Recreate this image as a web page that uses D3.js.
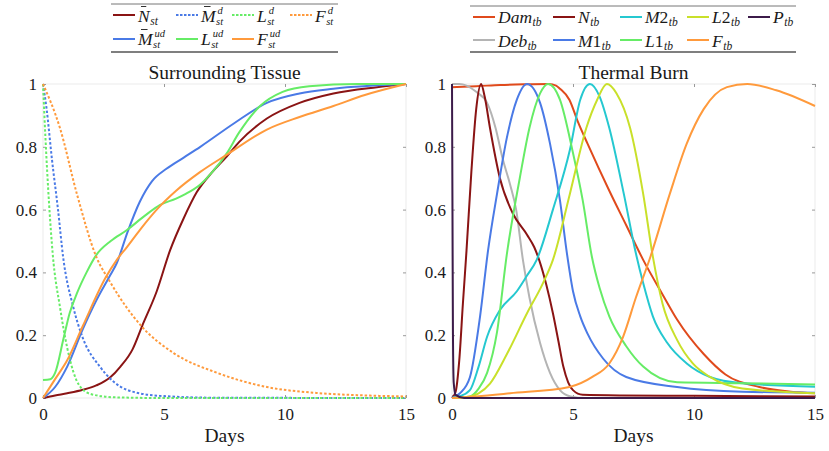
<!DOCTYPE html>
<html>
<head>
<meta charset="utf-8">
<script src="https://cdn.jsdelivr.net/npm/d3@7"></script>
<style>
  body { margin: 0; background: #fff; }
  text { font-family: "Liberation Serif", "Times New Roman", "DejaVu Serif", serif; fill: #1a1a1a; }
  .math { font-style: italic; }
</style>
</head>
<body>
<script>
// ticks
const xTicks = [0, 5, 10, 15];
const yTicks = [0, 0.2, 0.4, 0.6, 0.8, 1];
const yTickLabels = ["0", "0.2", "0.4", "0.6", "0.8", "1"];

// Surrounding tissue, [day, value]
const nSt = [[0,0],[0.5,0.008],[1,0.015],[1.65,0.026],[2.2,0.04],[2.77,0.065],[3.2,0.1],[3.7,0.155],[4.1,0.23],[4.7,0.34],[5.25,0.47],[5.8,0.57],[6.35,0.655],[7,0.72],[7.6,0.77],[8.1,0.815],[9.25,0.89],[10.6,0.94],[12,0.97],[13.8,0.99],[15,1]];
const mStD = [[0,1],[0.15,0.92],[0.37,0.76],[0.62,0.6],[0.83,0.45],[1.25,0.29],[1.65,0.19],[2.35,0.1],[3.47,0.026],[4.8,0.007],[7,0.001],[15,0]];
const lStD = [[0,1],[0.1,0.83],[0.25,0.62],[0.4,0.46],[0.7,0.29],[1,0.16],[1.5,0.04],[2,0.012],[3,0.002],[5,0],[15,0]];
const fStD = [[0,1],[0.7,0.86],[1.4,0.65],[2.2,0.45],[2.77,0.37],[4.1,0.226],[5.4,0.143],[7.2,0.08],[9.25,0.035],[11.3,0.016],[13,0.009],[15,0.005]];
const mStUd = [[0,0],[0.5,0.035],[1,0.1],[1.65,0.22],[2.2,0.31],[2.77,0.39],[3.05,0.43],[3.5,0.53],[4,0.625],[4.5,0.69],[5.1,0.73],[5.8,0.765],[6.5,0.8],[7.9,0.875],[9.25,0.94],[10.6,0.97],[12,0.985],[15,1]];
const lStUd = [[0,0.057],[0.3,0.06],[0.5,0.08],[0.85,0.19],[1.1,0.27],[1.4,0.333],[1.8,0.4],[2.2,0.455],[2.8,0.5],[3.47,0.535],[4.2,0.58],[4.84,0.615],[5.5,0.635],[5.9,0.65],[6.5,0.68],[7,0.72],[7.6,0.78],[8.1,0.845],[8.97,0.93],[9.9,0.975],[11,0.993],[13,1],[15,1]];
const fStUd = [[0,0],[0.5,0.06],[1,0.12],[1.65,0.23],[2.6,0.385],[3.05,0.44],[3.46,0.48],[4,0.535],[4.7,0.6],[5.5,0.66],[6.5,0.72],[7.6,0.775],[9.25,0.855],[10.6,0.895],[12,0.93],[13.3,0.965],[15,1]];

// Thermal burn, [day, value]
const damTb = [[0,0.99],[1,0.993],[2,0.997],[3,0.999],[4,1],[4.3,0.995],[4.46,0.985],[4.85,0.95],[5.2,0.88],[5.6,0.81],[6.5,0.66],[7.2,0.55],[7.9,0.44],[8.7,0.33],[9.3,0.25],[10.4,0.14],[11.3,0.075],[12.7,0.035],[14,0.02],[15,0.015]];
const debTb = [[0,1],[0.3,1],[0.6,0.995],[1,0.975],[1.45,0.94],[1.8,0.86],[2.1,0.76],[2.4,0.68],[2.65,0.6],[2.93,0.44],[3.2,0.32],[3.64,0.175],[4.05,0.08],[4.46,0.025],[4.9,0.005],[5.5,0],[15,0]];
const nTb = [[0,0],[0.15,0.02],[0.3,0.12],[0.45,0.3],[0.6,0.47],[0.8,0.72],[1,0.92],[1.2,1],[1.35,0.96],[1.57,0.86],[1.98,0.7],[2.5,0.59],[3.1,0.52],[3.4,0.48],[3.6,0.44],[3.9,0.36],[4.17,0.27],[4.4,0.18],[4.6,0.1],[4.8,0.05],[5,0.025],[5.4,0.01],[7,0.008],[10,0.007],[15,0.005]];
const m1Tb = [[0,0],[0.33,0.015],[0.74,0.066],[1.16,0.26],[1.49,0.47],[1.86,0.65],[2.27,0.83],[2.68,0.95],[3.1,1],[3.64,0.94],[4.05,0.81],[4.46,0.63],[4.75,0.46],[5,0.34],[5.3,0.26],[5.6,0.205],[6.25,0.125],[7.2,0.067],[9.3,0.035],[12,0.02],[15,0.017]];
const m2Tb = [[0,0],[0.3,0.005],[0.74,0.025],[1.1,0.1],[1.45,0.195],[1.98,0.28],[2.68,0.34],[3.1,0.39],[3.5,0.44],[4.17,0.6],[4.87,0.79],[5.3,0.95],[5.7,1],[6.1,0.96],[6.5,0.86],[7.1,0.65],[7.6,0.46],[7.9,0.366],[8.3,0.26],[8.9,0.175],[9.7,0.11],[10.66,0.067],[12,0.047],[15,0.036]];
const l1Tb = [[0,0],[0.74,0.005],[1.1,0.03],[1.45,0.08],[1.86,0.21],[2.27,0.46],[2.8,0.7],[3.2,0.86],[3.64,0.97],[3.97,1],[4.46,0.95],[5,0.78],[5.4,0.63],[5.78,0.45],[6.1,0.35],[6.5,0.26],[7.2,0.165],[7.9,0.1],[9.3,0.05],[12,0.047],[15,0.043]];
const l2Tb = [[0,0],[0.74,0.005],[1.1,0.015],[1.57,0.046],[2.27,0.14],[3.1,0.27],[3.76,0.366],[4.17,0.44],[4.87,0.65],[5.55,0.86],[6,0.95],[6.4,1],[6.8,0.97],[7.36,0.86],[7.9,0.65],[8.3,0.45],[8.7,0.3],[9.3,0.185],[9.95,0.11],[10.66,0.067],[12,0.03],[15,0.015]];
const fTb = [[0,0],[1,0.005],[2.4,0.015],[4.85,0.035],[5.8,0.067],[6.5,0.11],[7.07,0.195],[7.6,0.32],[8.2,0.45],[9,0.65],[9.7,0.81],[10.4,0.92],[11.36,0.99],[12.2,1],[13.4,0.98],[15,0.93]];
const pTb = [[0,1],[0.02,0.6],[0.04,0.2],[0.07,0.05],[0.15,0.01],[0.5,0],[15,0]];

const darkRed = "#8a1414", blue = "#4a7ae6", green = "#66ec66", orange = "#ff9a3c";
const cyan = "#25c8d0", yellowGreen = "#c9e02a", purple = "#3c1b4a", gray = "#b4b4b4", damRed = "#e04a1c";

const W = 829, H = 451;
const svg = d3.select("body").append("svg").attr("width", W).attr("height", H);
svg.append("rect").attr("width", W).attr("height", H).attr("fill", "#fff");

function panel(x0, x1, title, series) {
  const x = d3.scaleLinear().domain([0, 15]).range([x0, x1]);
  const y = d3.scaleLinear().domain([0, 1]).range([398, 84]);
  const g = svg.append("g");

  g.append("rect")
    .attr("x", x0).attr("y", 84).attr("width", x1 - x0).attr("height", 314)
    .attr("fill", "none").attr("stroke", "#ebebeb");

  const bottom = g.append("g").attr("transform", "translate(0,398)")
    .call(d3.axisBottom(x).tickValues(xTicks).tickFormat(d3.format("d")).tickSize(-3).tickPadding(10));
  const left = g.append("g").attr("transform", `translate(${x0},0)`)
    .call(d3.axisLeft(y).tickValues(yTicks).tickFormat((d, i) => yTickLabels[i]).tickSize(-3).tickPadding(6));
  const top = g.append("g").attr("transform", "translate(0,84)")
    .call(d3.axisTop(x).tickValues(xTicks).tickFormat("").tickSize(-3));
  const right = g.append("g").attr("transform", `translate(${x1},0)`)
    .call(d3.axisRight(y).tickValues(yTicks).tickFormat("").tickSize(-3));
  [bottom, left, top, right].forEach((a) => {
    a.select(".domain").remove();
    a.selectAll("line").attr("stroke", "#9a9a9a");
    a.selectAll("text").style("font-size", "17px").attr("fill", "#222");
  });

  const line = d3.line().x((d) => x(d[0])).y((d) => y(d[1])).curve(d3.curveMonotoneX);
  g.selectAll(".series")
    .data(series)
    .join("path")
    .attr("fill", "none")
    .attr("stroke", (s) => s.color)
    .attr("stroke-width", 2)
    .attr("stroke-dasharray", (s) => (s.dotted ? "2.5,2" : null))
    .attr("d", (s) => line(s.data));

  g.append("text").attr("x", (x0 + x1) / 2).attr("y", 79)
    .attr("text-anchor", "middle").style("font-size", "19.5px").text(title);
  g.append("text").attr("x", (x0 + x1) / 2).attr("y", 442)
    .attr("text-anchor", "middle").style("font-size", "19.5px").text("Days");
}

panel(43, 406, "Surrounding Tissue", [
  { data: nSt, color: darkRed },
  { data: mStUd, color: blue },
  { data: mStD, color: blue, dotted: true },
  { data: lStUd, color: green },
  { data: lStD, color: green, dotted: true },
  { data: fStUd, color: orange },
  { data: fStD, color: orange, dotted: true },
]);

panel(452, 815, "Thermal Burn", [
  { data: damTb, color: damRed },
  { data: debTb, color: gray },
  { data: nTb, color: darkRed },
  { data: m1Tb, color: blue },
  { data: m2Tb, color: cyan },
  { data: l1Tb, color: green },
  { data: l2Tb, color: yellowGreen },
  { data: fTb, color: orange },
  { data: pTb, color: purple },
]);

// legends
function mathLabel(g, x, base, parts) {
  const t = g.append("text").attr("x", x).attr("y", base).style("font-size", "17.5px");
  parts.main.forEach((p) => t.append("tspan").attr("class", p[1] ? "math" : null).text(p[0]));
  const w = t.node().getComputedTextLength();
  if (parts.bar) {
    g.append("line").attr("x1", x + 3).attr("x2", x + 3 + w * 0.45)
      .attr("y1", base - 15).attr("y2", base - 15)
      .attr("stroke", "#1a1a1a").attr("stroke-width", 0.9);
  }
  const sx = x + w + 0.5;
  if (parts.sup) {
    g.append("text").attr("class", "math").attr("x", sx + 1.5).attr("y", base - 8)
      .style("font-size", "10.5px").text(parts.sup);
    g.append("text").attr("class", "math").attr("x", sx).attr("y", base + 3.5)
      .style("font-size", "10.5px").text(parts.sub);
  } else {
    g.append("text").attr("class", "math").attr("x", sx).attr("y", base + 3)
      .style("font-size", "11.5px").text(parts.sub);
  }
}

function legend(box, items) {
  const g = svg.append("g");
  g.append("rect").attr("x", box[0]).attr("y", box[1]).attr("width", box[2] - box[0])
    .attr("height", box[3] - box[1]).attr("fill", "#fff").attr("stroke", "none");
  [box[1], box[3]].forEach((yy, i) =>
    g.append("line").attr("x1", box[0]).attr("x2", box[2]).attr("y1", yy).attr("y2", yy)
      .attr("stroke", i ? "#555" : "#777").attr("stroke-width", i ? 1.5 : 1));
  items.forEach((it) => {
    g.append("line").attr("x1", it.x).attr("x2", it.x + 22).attr("y1", it.y).attr("y2", it.y)
      .attr("stroke", it.color).attr("stroke-width", 2)
      .attr("stroke-dasharray", it.dotted ? "2.5,1.5" : null);
    mathLabel(g, it.x + 25, it.base, it.label);
  });
}

legend([111, 4, 338, 52], [
  { x: 113, y: 15, base: 21.5, color: darkRed, label: { main: [["N", 1]], bar: true, sub: "st" } },
  { x: 176, y: 15, base: 21.5, color: blue, dotted: true, label: { main: [["M", 1]], bar: true, sup: "d", sub: "st" } },
  { x: 232, y: 15, base: 21.5, color: green, dotted: true, label: { main: [["L", 1]], sup: "d", sub: "st" } },
  { x: 290, y: 15, base: 21.5, color: orange, dotted: true, label: { main: [["F", 1]], sup: "d", sub: "st" } },
  { x: 113, y: 39, base: 44.5, color: blue, label: { main: [["M", 1]], bar: true, sup: "ud", sub: "st" } },
  { x: 176, y: 39, base: 44.5, color: green, label: { main: [["L", 1]], sup: "ud", sub: "st" } },
  { x: 232, y: 39, base: 44.5, color: orange, label: { main: [["F", 1]], sup: "ud", sub: "st" } },
]);

legend([470, 6, 796, 52], [
  { x: 473, y: 17, base: 23, color: damRed, label: { main: [["Dam", 1]], sub: "tb" } },
  { x: 553, y: 17, base: 23, color: darkRed, label: { main: [["N", 1]], sub: "tb" } },
  { x: 620, y: 17, base: 23, color: cyan, label: { main: [["M", 1], ["2", 0]], sub: "tb" } },
  { x: 687, y: 17, base: 23, color: yellowGreen, label: { main: [["L", 1], ["2", 0]], sub: "tb" } },
  { x: 748, y: 17, base: 23, color: purple, label: { main: [["P", 1]], sub: "tb" } },
  { x: 473, y: 40, base: 46.5, color: gray, label: { main: [["Deb", 1]], sub: "tb" } },
  { x: 553, y: 40, base: 46.5, color: blue, label: { main: [["M", 1], ["1", 0]], sub: "tb" } },
  { x: 620, y: 40, base: 46.5, color: green, label: { main: [["L", 1], ["1", 0]], sub: "tb" } },
  { x: 687, y: 40, base: 46.5, color: orange, label: { main: [["F", 1]], sub: "tb" } },
]);
</script>
</body>
</html>
